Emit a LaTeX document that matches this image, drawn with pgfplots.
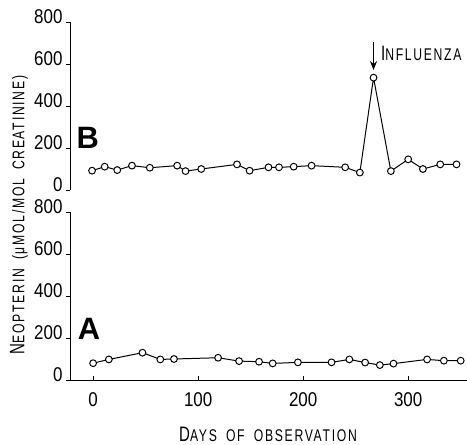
\documentclass[border=0pt]{standalone}
\usepackage{pgfplots}
\pgfplotsset{compat=1.18}
\usetikzlibrary{arrows.meta}
\usepackage{fontspec}
\setmainfont{Liberation Sans}
\newfontfamily\labfont[FakeStretch=0.72,LetterSpace=10,WordSpace=1.8]{Liberation Sans}
\newfontfamily\ticfont[FakeStretch=0.85]{Liberation Sans}
\newcommand\smc[2]{{\fontsize{21}{21}\selectfont #1}{\fontsize{17}{17}\selectfont #2}}

\pgfplotsset{
  panel/.style={
    scale only axis, width=397bp, height=168bp,
    xmin=-22, xmax=356, ymin=0, ymax=800,
    ytick={0,200,400,600,800},
    axis y line*=left,
    ytick align=outside,
    major tick length=4bp,
    tick style={black, line width=0.8pt},
    axis line style={line width=0.9pt},
    yticklabel style={font=\ticfont\fontsize{20}{20}\selectfont, yshift=5bp},
    xticklabel style={font=\ticfont\fontsize{20}{20}\selectfont, yshift=-9bp},
    /pgf/number format/assume math mode=true,
    clip=false,
  },
  series/.style={black, line width=1pt, mark=*, mark size=3.4pt,
    mark options={fill=white, draw=black, line width=1pt}},
}

\begin{document}
\begin{tikzpicture}
\path[use as bounding box] (-70bp,-65bp) rectangle (397bp,380bp);

% panel B (top)
\begin{axis}[panel, at={(0,190bp)}, anchor=south west, axis x line=none]
\addplot[series] coordinates {
  (-1,92)(11,111)(23,95)(37,116)(54,106)(80,116)(88,90)(103,100)
  (137,122)(149,92)(167,108)(177,108)(191,111)(208,116)(240,108)
  (254,83)(267,535)(283.5,90)(300,146)(314,100)(330.5,122)(346,122)
};
\node[font=\fontsize{31}{31}\selectfont\bfseries] at (axis cs:-5,248) {B};
\draw[-{Stealth[length=9bp,width=7bp]}, line width=1.5pt]
  (axis cs:267,705) -- (axis cs:267,571);
\node[anchor=west, inner sep=0pt] at (axis cs:274,652) {\labfont\smc{I}{NFLUENZA}};
\end{axis}

% panel A (bottom)
\begin{axis}[panel, at={(0,0)}, anchor=south west,
  axis x line*=bottom, xtick={0,100,200,300}, xtick align=inside]
\addplot[series] coordinates {
  (0,80)(15,98)(47,130)(64,98)(77,100)(119,106)(139,90)(158,87)
  (171,79)(195,84)(227,84)(244,98)(259,83)(273,71)(286,78)
  (318,98)(334,92)(350,92)
};
\node[font=\fontsize{31}{31}\selectfont\bfseries] at (axis cs:-4,243) {A};
\end{axis}

\node[rotate=90] at (-51bp,165bp) {\labfont\smc{N}{EOPTERIN (μMOL/MOL CREATININE)}};
\node at (198bp,-54bp) {\labfont\smc{D}{AYS OF OBSERVATION}};
\end{tikzpicture}
\end{document}
